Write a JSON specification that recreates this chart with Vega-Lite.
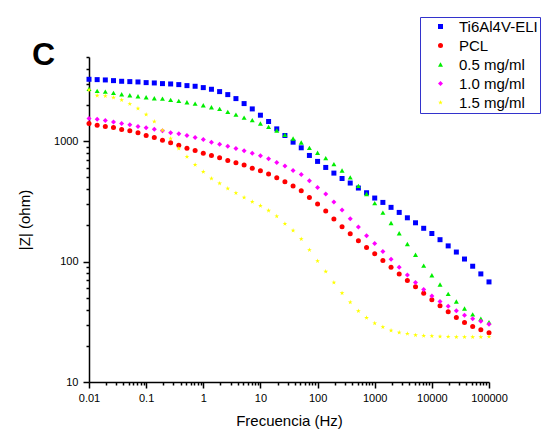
{
  "$schema": "https://vega.github.io/schema/vega-lite/v6.json",
  "width": 400,
  "height": 325,
  "autosize": {"type": "none"},
  "padding": {"left": 89, "top": 57, "right": 67, "bottom": 52},
  "background": "white",
  "config": {"view": {"stroke": null}, "font": "Liberation Sans"},
  "title": {"text": "C", "anchor": "start", "frame": "group", "fontSize": 32, "fontWeight": "bold", "font": "Liberation Sans", "color": "black", "baseline": "alphabetic", "offset": 0, "dx": -57, "dy": 80},
  "datasets": {
    "names": [
      {"k": "t", "s": "Ti6Al4V-ELI"},
      {"k": "p", "s": "PCL"},
      {"k": "a", "s": "0.5 mg/ml"},
      {"k": "b", "s": "1.0 mg/ml"},
      {"k": "c", "s": "1.5 mg/ml"}
    ],
    "eis": [
      {"f": 0.01, "t": 3265, "p": 1401, "a": 2716, "b": 1541, "c": 2664},
      {"f": 0.013895, "t": 3244, "p": 1357, "a": 2613, "b": 1522, "c": 2390},
      {"f": 0.019307, "t": 3224, "p": 1323, "a": 2580, "b": 1483, "c": 2375},
      {"f": 0.026827, "t": 3183, "p": 1298, "a": 2516, "b": 1446, "c": 2301},
      {"f": 0.037276, "t": 3143, "p": 1250, "a": 2452, "b": 1401, "c": 2200},
      {"f": 0.051795, "t": 3123, "p": 1218, "a": 2406, "b": 1366, "c": 2039},
      {"f": 0.071969, "t": 3103, "p": 1172, "a": 2360, "b": 1323, "c": 1865},
      {"f": 0.1, "t": 3064, "p": 1114, "a": 2315, "b": 1290, "c": 1663},
      {"f": 0.13895, "t": 3044, "p": 1073, "a": 2272, "b": 1257, "c": 1456},
      {"f": 0.19307, "t": 3006, "p": 1019, "a": 2257, "b": 1218, "c": 1234},
      {"f": 0.26827, "t": 2986, "p": 969, "a": 2200, "b": 1172, "c": 1052},
      {"f": 0.37276, "t": 2949, "p": 927, "a": 2159, "b": 1150, "c": 870},
      {"f": 0.51795, "t": 2893, "p": 875, "a": 2105, "b": 1114, "c": 742},
      {"f": 0.71969, "t": 2857, "p": 837, "a": 2052, "b": 1073, "c": 637},
      {"f": 1, "t": 2785, "p": 795, "a": 1987, "b": 1032, "c": 557},
      {"f": 1.3895, "t": 2698, "p": 761, "a": 1913, "b": 981, "c": 490},
      {"f": 1.9307, "t": 2580, "p": 728, "a": 1853, "b": 944, "c": 446},
      {"f": 2.6827, "t": 2436, "p": 692, "a": 1750, "b": 909, "c": 405},
      {"f": 3.7276, "t": 2257, "p": 661, "a": 1663, "b": 870, "c": 371},
      {"f": 5.1795, "t": 2052, "p": 633, "a": 1571, "b": 832, "c": 341},
      {"f": 7.1969, "t": 1853, "p": 597, "a": 1493, "b": 795, "c": 314},
      {"f": 10, "t": 1643, "p": 568, "a": 1401, "b": 756, "c": 291},
      {"f": 13.895, "t": 1456, "p": 533, "a": 1315, "b": 714, "c": 265},
      {"f": 19.307, "t": 1265, "p": 497, "a": 1226, "b": 666, "c": 238},
      {"f": 26.827, "t": 1114, "p": 460, "a": 1128, "b": 621, "c": 206},
      {"f": 37.276, "t": 981, "p": 424, "a": 1052, "b": 571, "c": 181},
      {"f": 51.795, "t": 881, "p": 388, "a": 975, "b": 529, "c": 154},
      {"f": 71.969, "t": 761, "p": 341, "a": 881, "b": 469, "c": 125},
      {"f": 100, "t": 679, "p": 301, "a": 801, "b": 413, "c": 101},
      {"f": 138.95, "t": 605, "p": 263, "a": 723, "b": 364, "c": 82.6},
      {"f": 193.07, "t": 543, "p": 226, "a": 645, "b": 312, "c": 67},
      {"f": 268.27, "t": 490, "p": 195, "a": 571, "b": 268, "c": 54.7},
      {"f": 372.76, "t": 449, "p": 170, "a": 500, "b": 227, "c": 46},
      {"f": 517.95, "t": 408, "p": 149, "a": 426, "b": 194, "c": 38.8},
      {"f": 719.69, "t": 373, "p": 131, "a": 364, "b": 164, "c": 34.1},
      {"f": 1000, "t": 337, "p": 116, "a": 306, "b": 141, "c": 30.8},
      {"f": 1389.5, "t": 310, "p": 102, "a": 255, "b": 121, "c": 28.6},
      {"f": 1930.7, "t": 282, "p": 89.7, "a": 209, "b": 104.5, "c": 26.8},
      {"f": 2682.7, "t": 256, "p": 79, "a": 172, "b": 89.7, "c": 25.8},
      {"f": 3727.6, "t": 231, "p": 69.6, "a": 140, "b": 77.5, "c": 25.2},
      {"f": 5179.5, "t": 210, "p": 61.7, "a": 114, "b": 67, "c": 24.5},
      {"f": 7196.9, "t": 189, "p": 54.7, "a": 92.7, "b": 58.6, "c": 24.2},
      {"f": 10000, "t": 171, "p": 48.1, "a": 77, "b": 51.9, "c": 24.1},
      {"f": 13895, "t": 152, "p": 42.9, "a": 64.5, "b": 46.6, "c": 23.9},
      {"f": 19307, "t": 135, "p": 38.3, "a": 54, "b": 42.6, "c": 23.8},
      {"f": 26827, "t": 120, "p": 34.4, "a": 46.6, "b": 39, "c": 23.6},
      {"f": 37276, "t": 105, "p": 31.2, "a": 40.8, "b": 35.9, "c": 23.6},
      {"f": 51795, "t": 91.5, "p": 28.9, "a": 36.4, "b": 33.5, "c": 23.6},
      {"f": 71969, "t": 79, "p": 27.2, "a": 33.5, "b": 32, "c": 23.6},
      {"f": 100000, "t": 67.8, "p": 25.6, "a": 31.4, "b": 30.2, "c": 23.8}
    ]
  },
  "data": {"name": "eis"},
  "transform": [
    {"fold": ["t", "p", "a", "b", "c"], "as": ["k", "z"]},
    {"lookup": "k", "from": {"data": {"name": "names"}, "key": "k", "fields": ["s"]}}
  ],
  "resolve": {"axis": {"x": "independent", "y": "independent"}},
  "layer": [
    {
      "mark": {"type": "point", "filled": true, "opacity": 0, "clip": false},
      "encoding": {
        "x": {
          "field": "f", "type": "quantitative",
          "scale": {"type": "log", "domain": [0.01, 100000], "nice": false},
          "axis": {
            "orient": "bottom", "title": null, "labels": false, "domain": false, "grid": false,
            "values": [0.02,0.03,0.04,0.05,0.06,0.07,0.08,0.09,0.2,0.3,0.4,0.5,0.6,0.7,0.8,0.9,2,3,4,5,6,7,8,9,20,30,40,50,60,70,80,90,200,300,400,500,600,700,800,900,2000,3000,4000,5000,6000,7000,8000,9000,20000,30000,40000,50000,60000,70000,80000,90000],
            "tickSize": 3, "tickColor": "black", "tickWidth": 1.5
          }
        },
        "y": {
          "field": "z", "type": "quantitative",
          "scale": {"type": "log", "domain": [10, 5000], "nice": false},
          "axis": {
            "orient": "left", "title": null, "labels": false, "domain": false, "grid": false,
            "values": [20,30,40,50,60,70,80,90,200,300,400,500,600,700,800,900,2000,3000,4000,5000],
            "tickSize": 3, "tickColor": "black", "tickWidth": 1.5
          }
        }
      }
    },
    {
      "mark": {"type": "point", "filled": true, "opacity": 1, "clip": false},
      "encoding": {
        "x": {
          "field": "f", "type": "quantitative",
          "scale": {"type": "log", "domain": [0.01, 100000], "nice": false},
          "axis": {
            "orient": "bottom",
            "title": "Frecuencia (Hz)",
            "values": [0.01, 0.1, 1, 10, 100, 1000, 10000, 100000],
            "format": "~g",
            "tickSize": 6,
            "grid": false,
            "domainColor": "black", "domainWidth": 1.5,
            "tickColor": "black", "tickWidth": 1.5,
            "labelFontSize": 11, "labelColor": "black", "labelFont": "Liberation Sans",
            "labelFlush": false, "labelOverlap": false, "labelPadding": 4,
            "titleFontSize": 15, "titleFontWeight": "normal", "titleColor": "black", "titleFont": "Liberation Sans", "titlePadding": 10.5
          }
        },
        "y": {
          "field": "z", "type": "quantitative",
          "scale": {"type": "log", "domain": [10, 5000], "nice": false},
          "axis": {
            "orient": "left",
            "title": "|Z| (ohm)",
            "values": [10, 100, 1000],
            "format": "~g",
            "tickSize": 6,
            "grid": false,
            "domainColor": "black", "domainWidth": 1.5,
            "tickColor": "black", "tickWidth": 1.5,
            "labelFontSize": 11, "labelColor": "black", "labelFont": "Liberation Sans",
            "labelOverlap": false, "labelPadding": 5,
            "titleFontSize": 15, "titleFontWeight": "normal", "titleColor": "black", "titleFont": "Liberation Sans", "titlePadding": 21
          }
        },
        "color": {
          "field": "s", "type": "nominal",
          "scale": {"domain": ["Ti6Al4V-ELI", "PCL", "0.5 mg/ml", "1.0 mg/ml", "1.5 mg/ml"], "range": ["#0000ff", "#ff0000", "#00ee00", "#ff00ff", "#ffff00"]},
          "legend": {"title": null, "orient": "none", "legendX": 331, "legendY": -40, "strokeColor": "#3333cc", "fillColor": "white", "padding": 2, "symbolOffset": 11, "labelOffset": 11, "labelFontSize": 15, "labelFont": "Liberation Sans", "labelColor": "black", "rowPadding": 3, "symbolSize": 14, "symbolStrokeWidth": 0}
        },
        "shape": {
          "field": "s", "type": "nominal",
          "scale": {"domain": ["Ti6Al4V-ELI", "PCL", "0.5 mg/ml", "1.0 mg/ml", "1.5 mg/ml"], "range": ["square", "circle", "triangle-up", "diamond", "M0,-1L0.2245,-0.309L0.9511,-0.309L0.3633,0.118L0.5878,0.809L0,0.382L-0.5878,0.809L-0.3633,0.118L-0.9511,-0.309L-0.2245,-0.309Z"]},
          "legend": {"title": null, "orient": "none", "legendX": 331, "legendY": -40, "strokeColor": "#3333cc", "fillColor": "white", "padding": 2, "symbolOffset": 11, "labelOffset": 11, "labelFontSize": 15, "labelFont": "Liberation Sans", "labelColor": "black", "rowPadding": 3, "symbolSize": 14, "symbolStrokeWidth": 0}
        },
        "size": {
          "field": "s", "type": "ordinal",
          "scale": {"domain": ["Ti6Al4V-ELI", "PCL", "0.5 mg/ml", "1.0 mg/ml", "1.5 mg/ml"], "range": [25, 25, 40, 36, 70]},
          "legend": null
        }
      }
    }
  ]
}
